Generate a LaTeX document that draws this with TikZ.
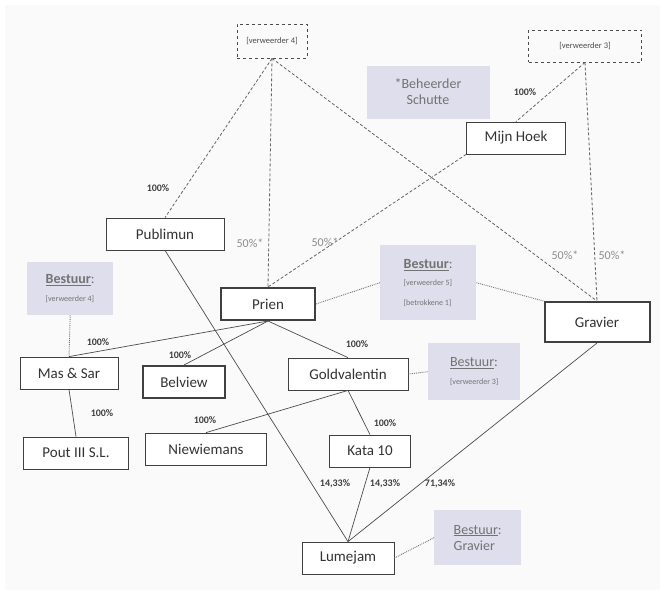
\documentclass[tikz,border=0pt]{standalone}
\usepackage{fontspec}
\setmainfont{Carlito}
\definecolor{lav}{RGB}{222,222,236}
\begin{document}
\begin{tikzpicture}[x=1pt,y=-1pt,
 box/.style={draw=black!75,line width=0.8pt,fill=white,minimum height=32pt,font=\fontsize{15}{17}\selectfont,text=black!80},
 thick box/.style={box,line width=2pt},
 vbox/.style={draw=black!70,dashed,line width=0.9pt,font=\fontsize{8.5}{10}\selectfont,text=black!70},
 gbox/.style={fill=lav,draw=none,align=left,text=black!55,font=\fontsize{14}{16}\selectfont},
 dsh/.style={draw=black!60,densely dashed,line width=0.8pt},
 dtt/.style={draw=black!55,densely dotted,line width=0.9pt},
 sol/.style={draw=black!70,line width=0.7pt},
 pct/.style={font=\bfseries\fontsize{10}{11}\selectfont,text=black!75},
 gpct/.style={font=\fontsize{12}{13}\selectfont,text=black!45}]
\useasboundingbox (0,0) rectangle (666,600);
\fill[black!2] (5,5) rectangle (660,590);
% annotation boxes
\node[gbox,minimum width=123pt,minimum height=53pt,align=center] (bs) at (428,92) {*Beheerder\\Schutte};
\node[gbox,minimum width=86pt,minimum height=53pt,anchor=north west] (bl) at (27,262) {\underline{\textbf{Bestuur}}:\\[2pt]{\fontsize{8}{9}\selectfont[verweerder 4]}};
\node[gbox,minimum width=96pt,minimum height=75pt,anchor=north west] (bm) at (380,245) {\underline{\textbf{Bestuur}}:\\[1pt]{\fontsize{8}{9}\selectfont[verweerder 5]}\\[4pt]{\fontsize{8}{9}\selectfont[betrokkene 1]}};
\node[gbox,minimum width=92pt,minimum height=57pt,anchor=north west] (br) at (428,343) {\underline{Bestuur}:\\[2pt]{\fontsize{8}{9}\selectfont[verweerder 3]}};
\node[gbox,minimum width=87pt,minimum height=55pt,anchor=north west] (bg) at (434,510) {\underline{Bestuur}:\\Gravier};
% entities
\node[vbox,minimum width=70pt,minimum height=34pt] (v4) at (272,41) {[verweerder 4]};
\node[vbox,minimum width=113pt,minimum height=32pt] (v3) at (585,46) {[verweerder 3]};
\node[box,minimum width=99pt] (mh) at (516,138) {Mijn Hoek};
\node[box,minimum width=118pt] (pu) at (165,234) {Publimun};
\node[thick box,minimum width=94pt] (pr) at (268,304) {Prien};
\node[thick box,minimum width=105pt,minimum height=40pt] (gr) at (597,322) {Gravier};
\node[box,minimum width=98pt] (ms) at (69,373) {Mas \& Sar};
\node[thick box,minimum width=82pt] (be) at (184,382) {Belview};
\node[box,minimum width=120pt] (go) at (348,374) {Goldvalentin};
\node[box,minimum width=105pt] (po) at (76,453) {Pout III S.L.};
\node[box,minimum width=121pt] (ni) at (206,449) {Niewiemans};
\node[box,minimum width=81pt] (ka) at (370,451) {Kata 10};
\node[box,minimum width=92pt] (lu) at (348,558) {Lumejam};
% connectors
\draw[dsh] (v4.south) -- (pu.north);
\draw[dsh] (v4.south) -- (pr.north);
\draw[dsh] (v4.south) -- (gr.north);
\draw[dsh] (v3.south) -- (mh.north);
\draw[dsh] (v3.south) -- (gr.north);
\draw[dsh] (mh.south west) -- (pr.north);
\draw[dtt] (pr.east) -- (bm.west);
\draw[dtt] (bm.east) -- (gr.north west);
\draw[dtt] (bl.south) -- (ms.north);
\draw[dtt] (go.east) -- (br.west);
\draw[dtt] (lu.east) -- (bg.west);
\draw[sol] (pr.south) -- (ms.north);
\draw[sol] (pr.south) -- (be.north);
\draw[sol] (pr.south) -- (go.north);
\draw[sol] (ms.south) -- (po.north);
\draw[sol] (go.south) -- (ni.north);
\draw[sol] (go.south) -- (ka.north);
\draw[sol] (pu.south) -- (lu.north);
\draw[sol] (ka.south) -- (lu.north);
\draw[sol] (gr.south) -- (lu.north);
% labels
\node[pct] (l1) at (158,188) {100\%};
\node[pct] (l2) at (525,92) {100\%};
\node[gpct] (l3) at (250,243) {50\%*};
\node[gpct] (l4) at (325,242) {50\%*};
\node[gpct] (l5) at (565,255) {50\%*};
\node[gpct] (l6) at (612,255) {50\%*};
\node[pct] (l7) at (98,342) {100\%};
\node[pct] (l8) at (180,355) {100\%};
\node[pct] (l9) at (357,344) {100\%};
\node[pct] (l10) at (102,413) {100\%};
\node[pct] (l11) at (205,420) {100\%};
\node[pct] (l12) at (385,423) {100\%};
\node[pct] (l13) at (335,484) {14,33\%};
\node[pct] (l14) at (385,484) {14,33\%};
\node[pct] (l15) at (440,484) {71,34\%};
\end{tikzpicture}
\end{document}
